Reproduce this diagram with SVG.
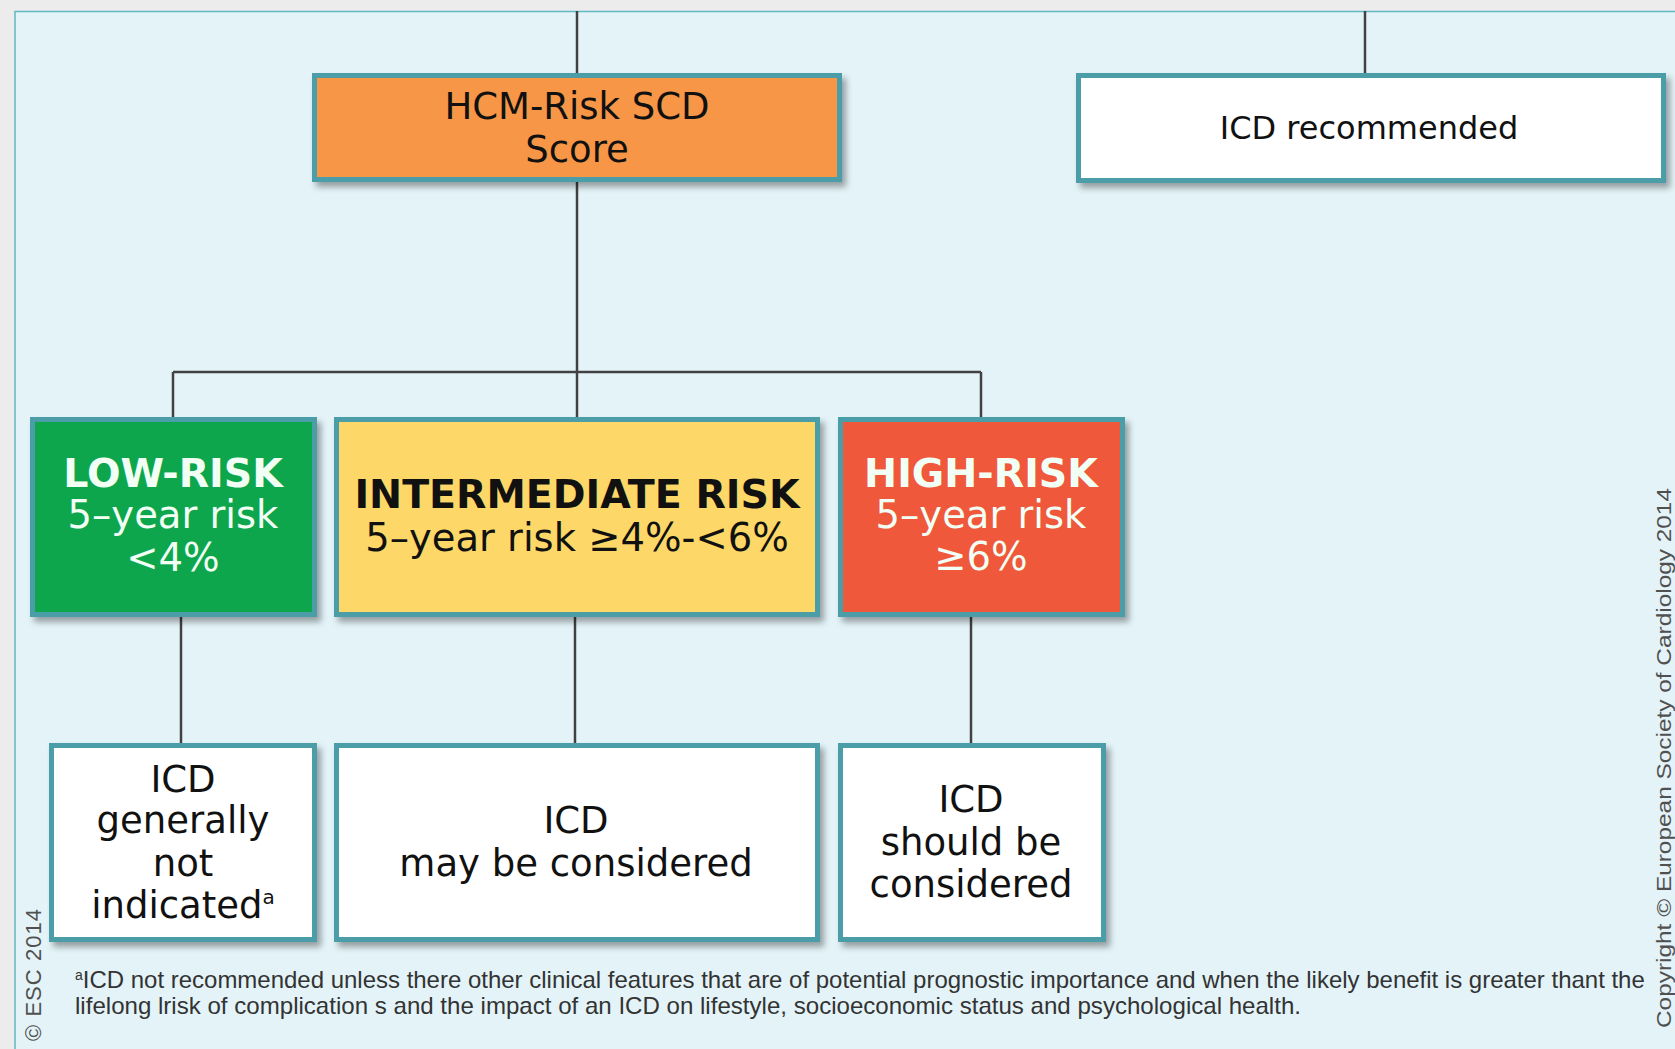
<svg xmlns="http://www.w3.org/2000/svg" width="1675" height="1049" viewBox="0 0 1675 1049">
  <defs>
    <filter id="shadow" x="-10%" y="-10%" width="125%" height="130%">
      <feDropShadow dx="4" dy="5" stdDeviation="3" flood-color="#000" flood-opacity="0.35"/>
    </filter>
    <style>
      .box { stroke: #4b9ea8; stroke-width: 5; filter: url(#shadow); }
      .white { fill: #ffffff; }
      .orange { fill: #f79646; }
      .green { fill: #0aa64e; }
      .yellow { fill: #fdd868; }
      .red { fill: #f0583b; }
      .t { font-family: "DejaVu Sans", Verdana, sans-serif; font-size: 37px; text-anchor: middle; fill: #111; }
      .r { font-size: 38.5px; }
      .b { font-weight: bold; font-size: 39.5px; }
      .light { fill: #f2fff4; }
      .link { stroke: #414141; stroke-width: 2.5; fill: none; }
      .note { font-family: "Liberation Sans", Arial, sans-serif; font-size: 24px; fill: #333; }
      .side { font-family: "Liberation Sans", Arial, sans-serif; fill: #505050; }
    </style>
  </defs>

  <!-- page surround and panel -->
  <rect x="0" y="0" width="1675" height="1049" fill="#ececec"/>
  <rect x="15" y="11" width="1670" height="1050" fill="#e3f3f8"/>
  <path d="M15 1049 V11.5 H1675" fill="none" stroke="#62b8c0" stroke-width="1.5"/>

  <!-- connectors -->
  <g id="connectors" class="link">
    <line x1="577" y1="11" x2="577" y2="74"/>
    <line x1="1365" y1="11" x2="1365" y2="74"/>
    <line x1="577" y1="181" x2="577" y2="419"/>
    <line x1="173" y1="372" x2="981" y2="372"/>
    <line x1="173" y1="372" x2="173" y2="419"/>
    <line x1="981" y1="372" x2="981" y2="419"/>
    <line x1="181" y1="615" x2="181" y2="745"/>
    <line x1="575" y1="615" x2="575" y2="745"/>
    <line x1="971" y1="615" x2="971" y2="745"/>
  </g>

  <!-- top row -->
  <g id="hcm-score">
    <rect class="box orange" x="314.5" y="75.5" width="525" height="104"/>
    <text class="t" x="577" y="119">HCM-Risk SCD</text>
    <text class="t" x="577" y="162">Score</text>
  </g>
  <g id="icd-recommended">
    <rect class="box white" x="1078.5" y="75.5" width="585" height="105"/>
    <text class="t" x="1369" y="139" style="font-size:32px">ICD recommended</text>
  </g>

  <!-- risk categories -->
  <g id="low-risk">
    <rect class="box green" x="32.5" y="419.5" width="282" height="195"/>
    <text class="t b light" x="173" y="487">LOW-RISK</text>
    <text class="t r light" x="173" y="528">5–year risk</text>
    <text class="t r light" x="173" y="571">&lt;4%</text>
  </g>
  <g id="intermediate-risk">
    <rect class="box yellow" x="336.5" y="419.5" width="481" height="195"/>
    <text class="t b" x="577" y="508">INTERMEDIATE RISK</text>
    <text class="t r" x="577" y="551">5–year risk ≥4%-&lt;6%</text>
  </g>
  <g id="high-risk">
    <rect class="box red" x="840.5" y="419.5" width="282" height="195"/>
    <text class="t b light" x="981" y="487">HIGH-RISK</text>
    <text class="t r light" x="981" y="528">5–year risk</text>
    <text class="t r light" x="981" y="570">≥6%</text>
  </g>

  <!-- recommendations -->
  <g id="icd-not-indicated">
    <rect class="box white" x="51.5" y="745.5" width="263" height="194"/>
    <text class="t" x="183" y="792">ICD</text>
    <text class="t" x="183" y="833">generally</text>
    <text class="t" x="183" y="876">not</text>
    <text class="t" x="183" y="918">indicated<tspan style="font-size:20px" dy="-14">a</tspan></text>
  </g>
  <g id="icd-may-be-considered">
    <rect class="box white" x="336.5" y="745.5" width="481" height="194"/>
    <text class="t" x="576" y="833">ICD</text>
    <text class="t" x="576" y="876">may be considered</text>
  </g>
  <g id="icd-should-be-considered">
    <rect class="box white" x="840.5" y="745.5" width="263" height="194"/>
    <text class="t" x="971" y="812">ICD</text>
    <text class="t" x="971" y="855">should be</text>
    <text class="t" x="971" y="897">considered</text>
  </g>

  <!-- footnote -->
  <text class="note" x="75" y="988"><tspan style="font-size:14px" dy="-8">a</tspan><tspan dy="8" textLength="1562" lengthAdjust="spacingAndGlyphs">ICD not recommended unless there other clinical features that are of potential prognostic importance and when the likely benefit is greater thant the</tspan></text>
  <text class="note" x="75" y="1014" textLength="1226" lengthAdjust="spacingAndGlyphs">lifelong lrisk  of complication s and the impact of an ICD on lifestyle, socioeconomic status and psychological health.</text>

  <!-- side credits -->
  <text class="side" transform="translate(41 1041) rotate(-90)" font-size="22" textLength="132" lengthAdjust="spacing">© ESC 2014</text>
  <text class="side" transform="translate(1671 1028) rotate(-90)" font-size="21" textLength="540" lengthAdjust="spacingAndGlyphs">Copyright © European Society of Cardiology 2014</text>
</svg>
